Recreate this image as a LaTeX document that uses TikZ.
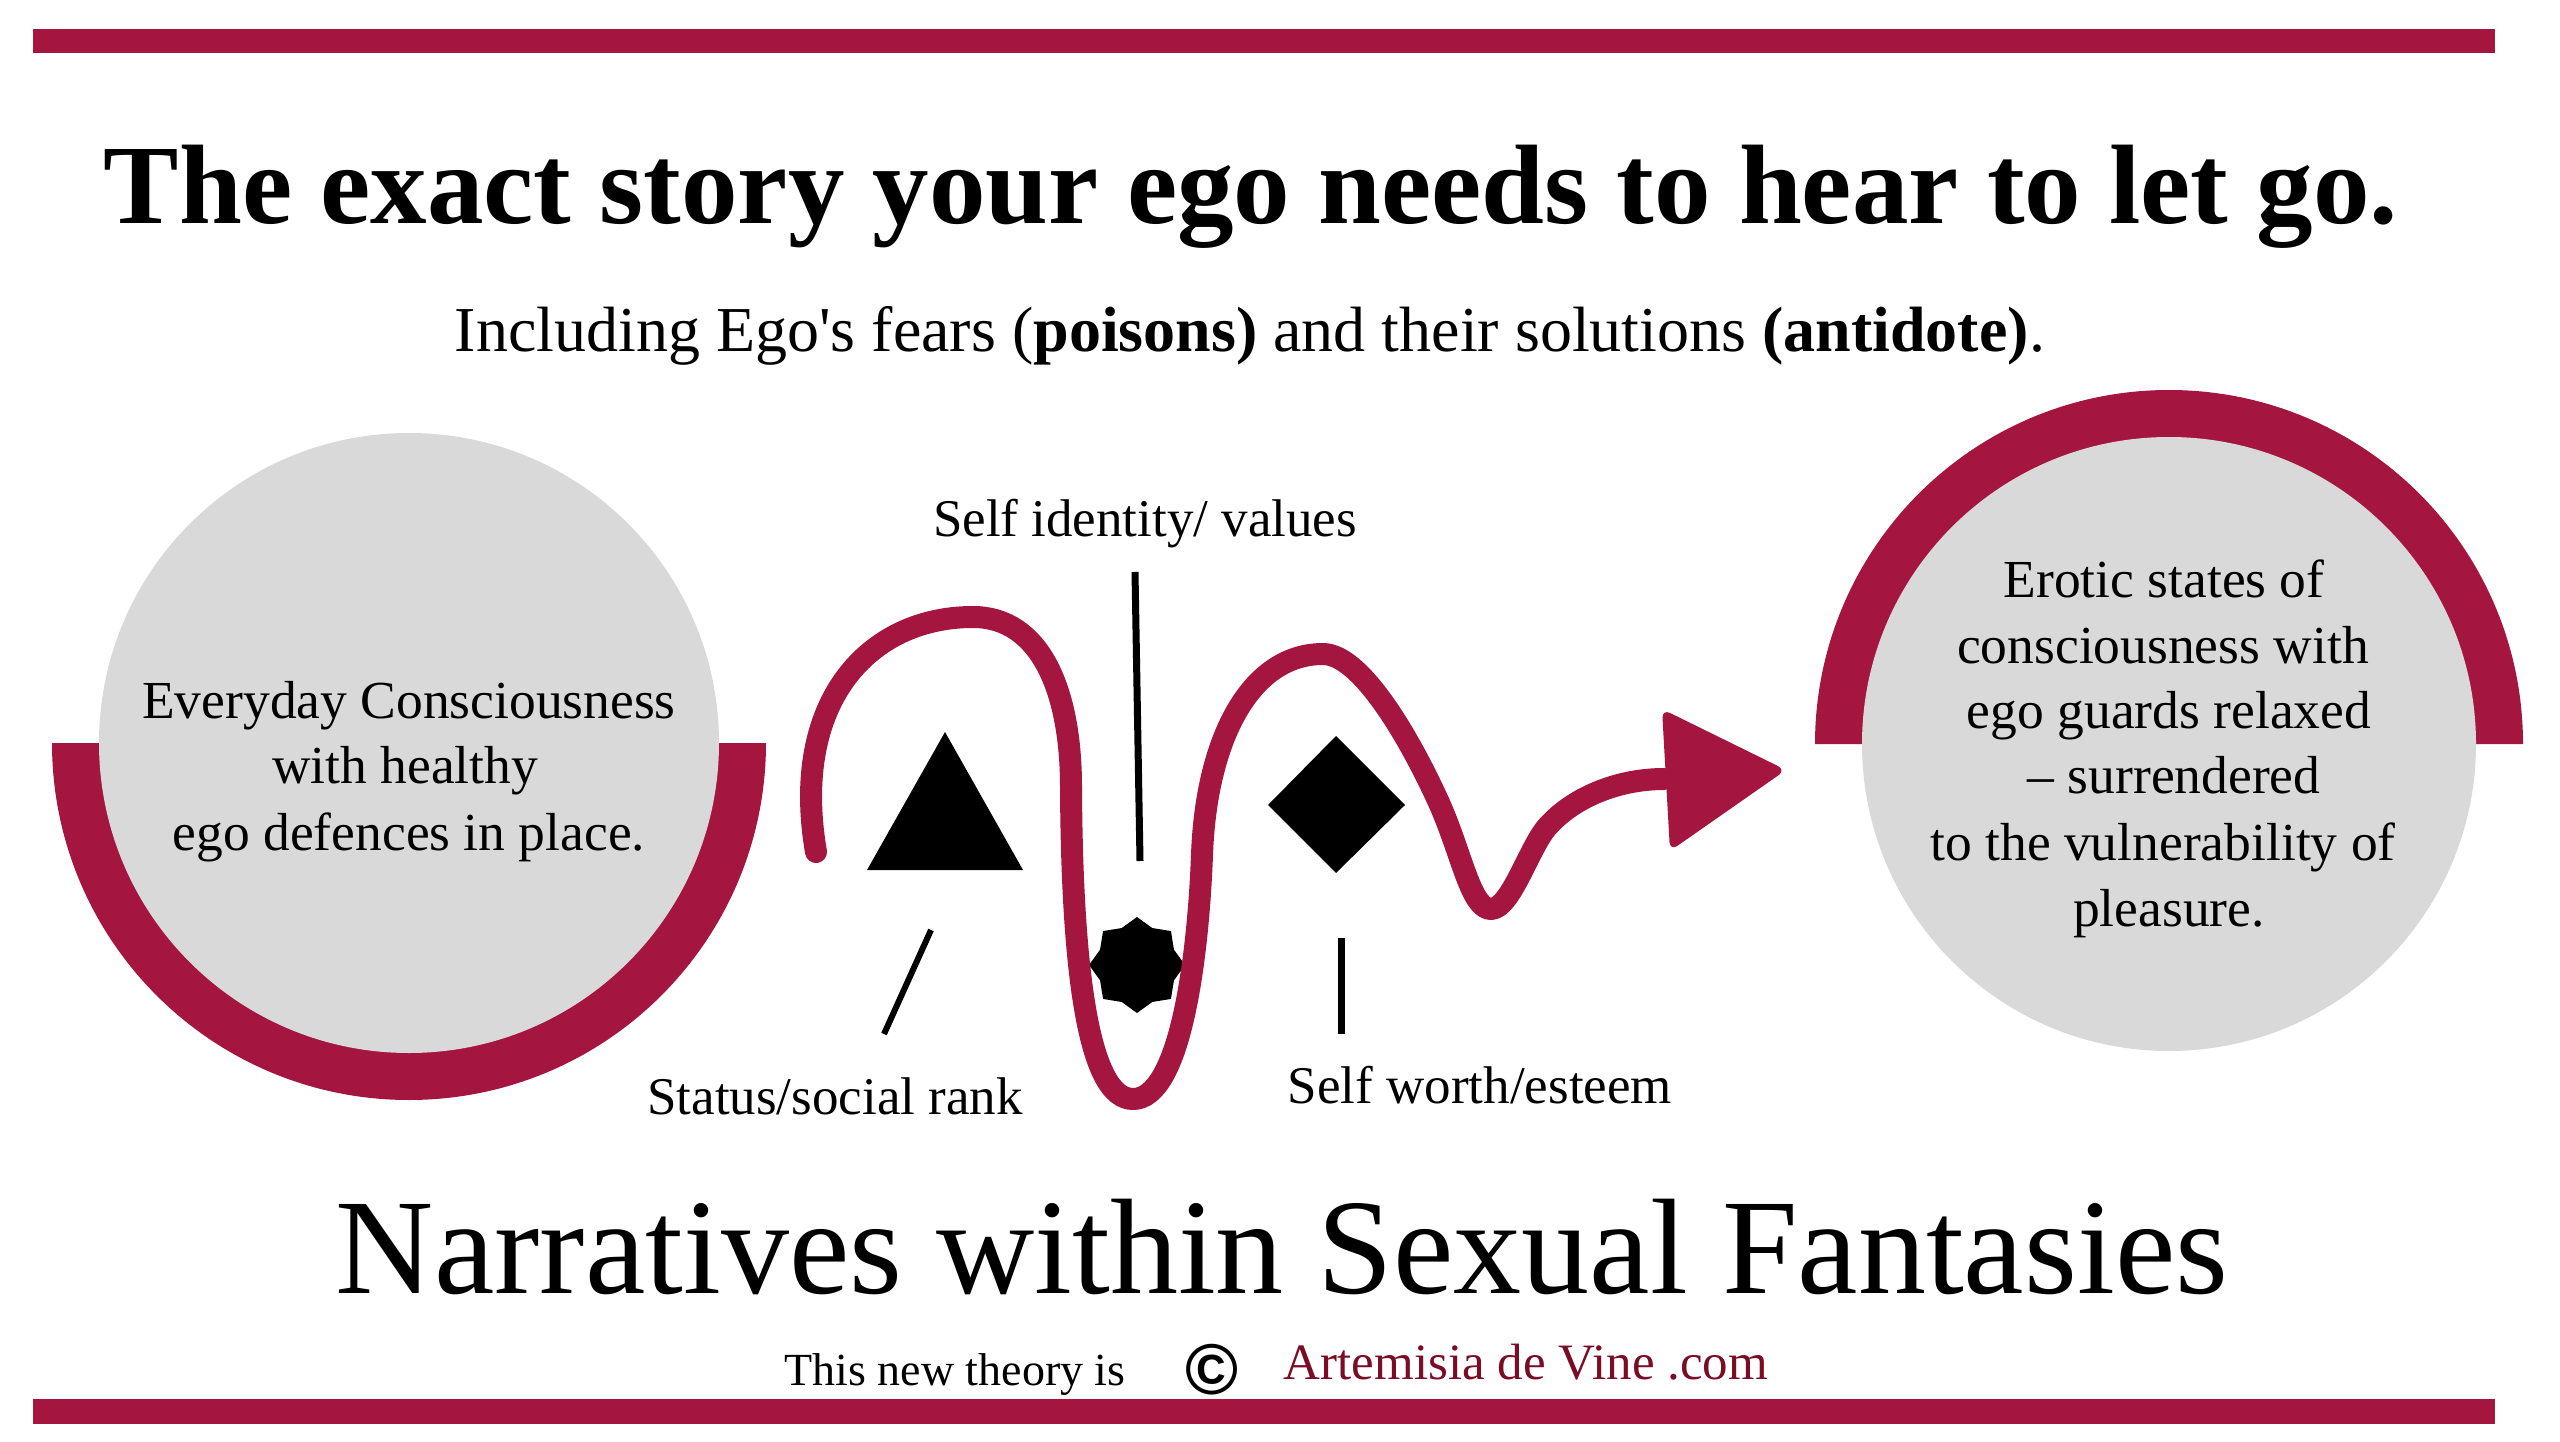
\documentclass[tikz,border=0pt]{standalone}
\usepackage{fontspec}
\setmainfont{Liberation Serif}
\newfontfamily\csans{Liberation Sans}
\usetikzlibrary{shapes.geometric}
\definecolor{wine}{HTML}{A41540}
\definecolor{ltgray}{HTML}{D9D9D9}
\definecolor{maroonc}{HTML}{7A0C25}
\newcommand\myfs[1]{\fontsize{#1}{#1}\selectfont}
\begin{document}
\begin{tikzpicture}[x=1pt,y=-1pt,
  txt/.style={inner sep=0pt, anchor=base},
  circtxt/.style={txt, font=\myfs{53.5}},
  lbl/.style={txt, font=\myfs{53}},
  tick/.style={line width=7pt, black},
  wave/.style={line width=22pt, wine, line cap=round, line join=round}]
\useasboundingbox (0,0) rectangle (2560,1442);
\fill[white] (0,0) rectangle (2560,1442);
% bars
\fill[wine] (33,29) rectangle (2495,53);
\fill[wine] (33,1399) rectangle (2495,1424);
% titles
\node[txt, font=\myfs{113}\bfseries] (title) at (1251,224) {The exact story your ego needs to hear to let go.};
\node[txt, font=\myfs{64}] (sub) at (1250,351) {Including Ego\textquotesingle s fears (\textbf{poisons)} and their solutions \textbf{(antidote)}.};
% left circle
\fill[wine] (766,743) arc[start angle=0, end angle=180, radius=357] -- cycle;
\fill[ltgray] (409,743) circle[radius=310];
\node[circtxt] (l1) at (409,718) {Everyday Consciousness};
\node[circtxt] (l2) at (405,783) {with healthy};
\node[circtxt] (l3) at (409,850) {ego defences in place.};
% right circle
\fill[wine] (1815,744) arc[start angle=180, end angle=360, radius=354] -- cycle;
\fill[ltgray] (2169,744) circle[radius=307];
\node[circtxt] (r1) at (2164,597) {Erotic states of};
\node[circtxt] (r2) at (2163,663) {consciousness with};
\node[circtxt] (r3) at (2169,728) {ego guards relaxed};
\node[circtxt] (r4) at (2174,793) {– surrendered};
\node[circtxt] (r5) at (2163,860) {to the vulnerability of};
\node[circtxt] (r6) at (2169,926) {pleasure.};
% shapes
\fill[black] (945,732) -- (1023,870) -- (867,870) -- cycle;
\fill[black] (1336,736) -- (1405,805) -- (1336,873) -- (1268,805) -- cycle;
\node[star, star points=8, star point ratio=1.2, minimum size=96pt, inner sep=0pt, fill=black] (st) at (1137,965) {};
% wave
\draw[wave] (816,852) .. controls (790,700) and (870,617) .. (973,617)
 .. controls (1040,617) and (1071,690) .. (1071,787)
 .. controls (1072,980) and (1090,1099) .. (1133,1099)
 .. controls (1180,1099) and (1198,960) .. (1202,855)
 .. controls (1206,740) and (1250,654) .. (1323,654)
 .. controls (1363,654) and (1414,747) .. (1440,805)
 .. controls (1462,855) and (1471,909) .. (1491,909)
 .. controls (1511,909) and (1530,845) .. (1548,826)
 .. controls (1575,796) and (1620,779) .. (1664,779);
\fill[wine, rounded corners=9pt] (1662,709) -- (1786,770) -- (1670,851) -- cycle;
% ticks
\draw[tick] (1135,572) -- (1140,861);
\draw[tick, line width=6pt] (931,930) -- (884,1034);
\draw[tick] (1341,938) -- (1341,1034);
% labels
\node[lbl] (lid) at (1145,536) {Self identity/ values};
\node[lbl] (lst) at (835,1114) {Status/social rank};
\node[lbl] (lsw) at (1480,1103) {Self worth/esteem};
% bottom
\node[txt, font=\myfs{136}] (btitle) at (1282,1293) {Narratives within Sexual Fantasies};
\node[txt, font=\myfs{46}] (cr1) at (955,1385) {This new theory is};
\node[inner sep=0pt, font=\csans\bfseries\myfs{72}] (copy) at (1212,1370) {©};
\node[txt, font=\myfs{51}, text=maroonc] (cr2) at (1526,1379) {Artemisia de Vine .com};
\end{tikzpicture}
\end{document}
